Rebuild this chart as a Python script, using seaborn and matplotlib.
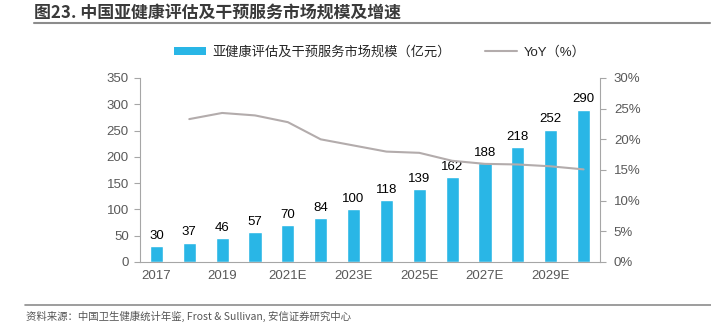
import numpy as np
import pandas as pd
import matplotlib
matplotlib.use("Agg")
import matplotlib.pyplot as plt
import seaborn as sns
from matplotlib.patches import Patch
from matplotlib.lines import Line2D

years = ["2017", "2018", "2019", "2020", "2021E", "2022E", "2023E", "2024E",
         "2025E", "2026E", "2027E", "2028E", "2029E", "2030E"]
market = [30, 37, 46, 57, 70, 84, 100, 118, 139, 162, 188, 218, 252, 290]
yoy = [None, 23.3, 24.3, 23.9, 22.8, 20.0, 19.0, 18.0, 17.8, 16.5, 16.0, 15.9, 15.6, 15.1]

bar_name = "亚健康评估及干预服务市场规模（亿元）"
line_name = "YoY（%）"
title = "图23. 中国亚健康评估及干预服务市场规模及增速"
source = "资料来源：中国卫生健康统计年鉴, Frost & Sullivan, 安信证券研究中心"

sns.set_theme(style="white")
plt.rcParams['font.family'] = ['Liberation Sans', 'Noto Sans CJK SC', 'DejaVu Sans']

BAR = "#29B6E6"
LINE = "#B3ACAC"
SPINE = "#A6A6A6"
TXT = "#595959"

fig = plt.figure(figsize=(7.11, 3.27), dpi=100)
ax = fig.add_axes([140/711, (327-262)/327, (600-140)/711, (262-78)/327])

df = pd.DataFrame({"year": years, "value": market})
sns.barplot(data=df, x="year", y="value", color=BAR, width=0.4, ax=ax, saturation=1)
for p, v in zip(ax.patches, market):
    ax.text(p.get_x() + p.get_width()/2, p.get_height() + 8, f"{v}",
            ha="center", va="bottom", fontsize=9.5, color="#000000")

ax.set_xlim(-0.5, len(years) - 0.5)
ax.set_ylim(0, 350)
ax.set_yticks(np.arange(0, 351, 50))
ax.set_xlabel("")
ax.set_ylabel("")
ax.set_xticks(np.arange(0, len(years), 2))
ax.set_xticklabels(years[::2])
ax.set_xticks(np.arange(-0.5, len(years), 1), minor=True)
ax.tick_params(axis="x", which="major", length=0, pad=6, labelsize=9.5, labelcolor=TXT)
ax.tick_params(axis="x", which="minor", length=4, color=SPINE, width=0.8, direction="out")
ax.tick_params(axis="y", length=4, color=SPINE, width=0.8, direction="out", labelsize=9.5,
               labelcolor=TXT, pad=4, left=True)
for s in ["top", "right"]:
    ax.spines[s].set_visible(False)
for s in ["left", "bottom"]:
    ax.spines[s].set_color(SPINE)
    ax.spines[s].set_linewidth(0.8)

ax2 = ax.twinx()
xi = np.arange(len(years))
ydf = pd.DataFrame({"x": xi, "yoy": [np.nan if v is None else v for v in yoy]}).dropna()
sns.lineplot(data=ydf, x="x", y="yoy", color=LINE, linewidth=1.5, ax=ax2)
ax2.set_ylim(0, 30)
ax2.set_yticks(np.arange(0, 31, 5))
ax2.set_yticklabels([f"{t}%" for t in range(0, 31, 5)])
ax2.set_ylabel("")
ax2.set_xlabel("")
ax2.tick_params(axis="y", length=4, color=SPINE, width=0.8, direction="out", labelsize=9.5,
                labelcolor=TXT, pad=6, right=True)
for s in ["top", "left", "bottom"]:
    ax2.spines[s].set_visible(False)
ax2.spines["right"].set_color(SPINE)
ax2.spines["right"].set_linewidth(0.8)
ax2.set_xlim(-0.5, len(years) - 0.5)

handles = [Patch(facecolor=BAR, edgecolor="none"), Line2D([0], [0], color=LINE, lw=1.5)]
fig.legend(handles, [bar_name, line_name], loc="center", bbox_to_anchor=(380/711, 1 - 52/327),
           ncol=2, frameon=False, fontsize=9.5, handlelength=2.4, handleheight=0.55,
           columnspacing=2.6, handletextpad=0.5)

fig.text(34/711, 1 - 13/327, title, fontsize=12.2, fontweight="bold", color="#3A3A3A",
         va="center", ha="left", family=['Noto Sans CJK SC', 'DejaVu Sans'])
fig.add_artist(Line2D([34/711, 710/711], [1 - 23/327, 1 - 23/327], color="#8C8C8C", lw=1.5))
fig.add_artist(Line2D([25/711, 711/711], [1 - 305/327, 1 - 305/327], color="#8C8C8C", lw=1.2))
fig.text(26/711, 1 - 316/327, source, fontsize=7.5, style="italic", color="#555555",
         va="center", ha="left", family=['Noto Sans CJK SC', 'DejaVu Sans'])

fig.savefig("out.png", dpi=100, facecolor="white")
